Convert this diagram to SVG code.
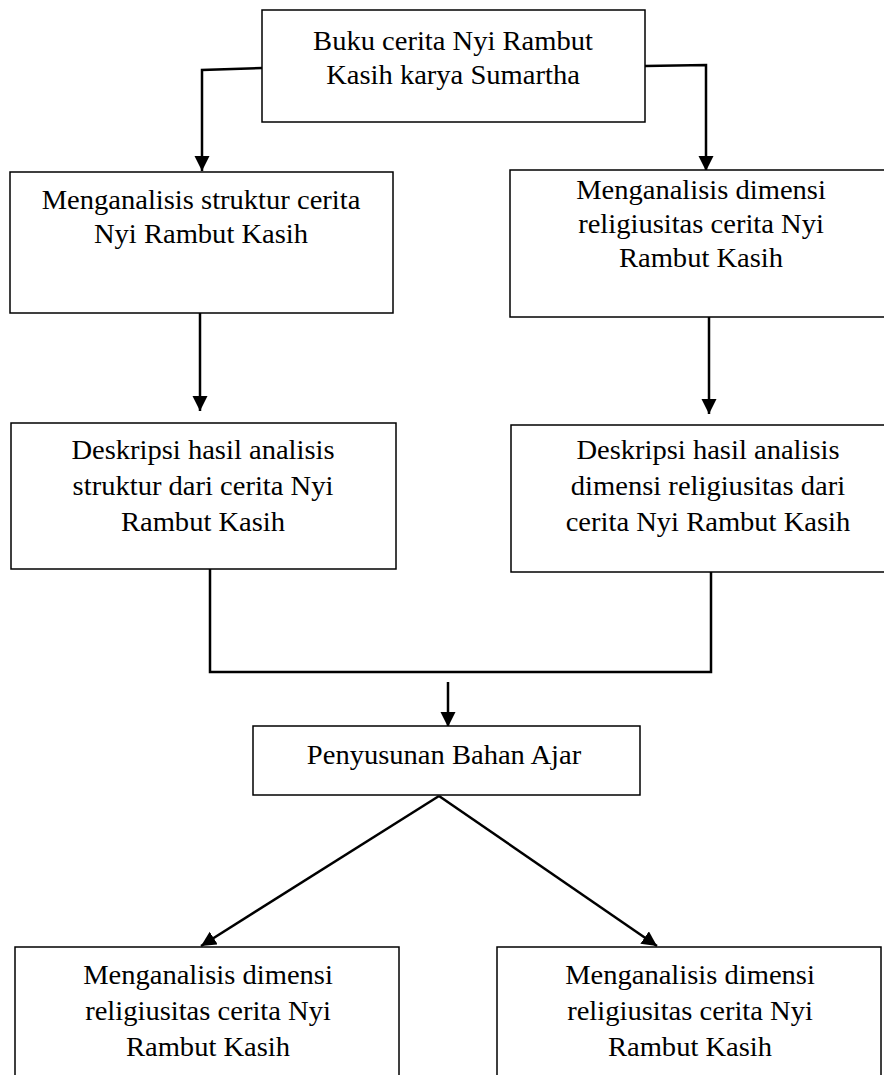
<svg xmlns="http://www.w3.org/2000/svg" width="884" height="1075" viewBox="0 0 884 1075">
<defs>
<marker id="ah" markerUnits="userSpaceOnUse" markerWidth="16" markerHeight="16" refX="15" refY="7.5" orient="auto">
<path d="M0,0 L15,7.5 L0,15 Z" fill="#000"/>
</marker>
<style>
.box{fill:#fff;stroke:#000;stroke-width:1.5}
.t{font-family:"Liberation Serif","Times New Roman",serif;font-size:28px;fill:#000;text-anchor:middle}
.c{fill:none;stroke:#000;stroke-width:2.5}
.ca{fill:none;stroke:#000;stroke-width:2.5;marker-end:url(#ah)}
</style>
</defs>
<rect width="884" height="1075" fill="#fff"/>
<g id="connectors">
<polyline class="ca" points="262,68 202,70 202,171"/>
<polyline class="ca" points="645,66 706,65 706,171"/>
<line class="ca" x1="200" y1="313" x2="200" y2="411"/>
<line class="ca" x1="709" y1="317" x2="709" y2="414"/>
<polyline class="c" points="210,569 210,672 711,672 711,570"/>
<line class="ca" x1="448" y1="682" x2="448" y2="727"/>
<line class="ca" x1="439" y1="796" x2="201" y2="946"/>
<line class="ca" x1="439" y1="796" x2="657" y2="946"/>
</g>
<g id="n1">
<rect class="box" x="262" y="10" width="383" height="112"/>
<text class="t" transform="translate(453,0) scale(1.02,1)"><tspan x="0" y="50">Buku cerita Nyi Rambut</tspan><tspan x="0" y="84">Kasih karya Sumartha</tspan></text>
</g>
<g id="n2">
<rect class="box" x="10" y="172" width="383" height="141"/>
<text class="t" transform="translate(201,0) scale(1.02,1)"><tspan x="0" y="209">Menganalisis struktur cerita</tspan><tspan x="0" y="243">Nyi Rambut Kasih</tspan></text>
</g>
<g id="n3">
<rect class="box" x="510" y="170" width="380" height="147"/>
<text class="t" transform="translate(701,0) scale(1.02,1)"><tspan x="0" y="199">Menganalisis dimensi</tspan><tspan x="0" y="233">religiusitas cerita Nyi</tspan><tspan x="0" y="267">Rambut Kasih</tspan></text>
</g>
<g id="n4">
<rect class="box" x="11" y="423" width="385" height="146"/>
<text class="t" transform="translate(203,0) scale(1.02,1)"><tspan x="0" y="459">Deskripsi hasil analisis</tspan><tspan x="0" y="495">struktur dari cerita Nyi</tspan><tspan x="0" y="531">Rambut Kasih</tspan></text>
</g>
<g id="n5">
<rect class="box" x="511" y="425" width="380" height="147"/>
<text class="t" transform="translate(708,0) scale(1.02,1)"><tspan x="0" y="459">Deskripsi hasil analisis</tspan><tspan x="0" y="495">dimensi religiusitas dari</tspan><tspan x="0" y="531">cerita Nyi Rambut Kasih</tspan></text>
</g>
<g id="n6">
<rect class="box" x="253" y="726" width="387" height="69"/>
<text class="t" transform="translate(444,0) scale(1.02,1)"><tspan x="0" y="764">Penyusunan Bahan Ajar</tspan></text>
</g>
<g id="n7">
<rect class="box" x="15" y="947" width="384" height="140"/>
<text class="t" transform="translate(208,0) scale(1.02,1)"><tspan x="0" y="984">Menganalisis dimensi</tspan><tspan x="0" y="1020">religiusitas cerita Nyi</tspan><tspan x="0" y="1056">Rambut Kasih</tspan></text>
</g>
<g id="n8">
<rect class="box" x="497" y="947" width="384" height="140"/>
<text class="t" transform="translate(690,0) scale(1.02,1)"><tspan x="0" y="984">Menganalisis dimensi</tspan><tspan x="0" y="1020">religiusitas cerita Nyi</tspan><tspan x="0" y="1056">Rambut Kasih</tspan></text>
</g>
</svg>
